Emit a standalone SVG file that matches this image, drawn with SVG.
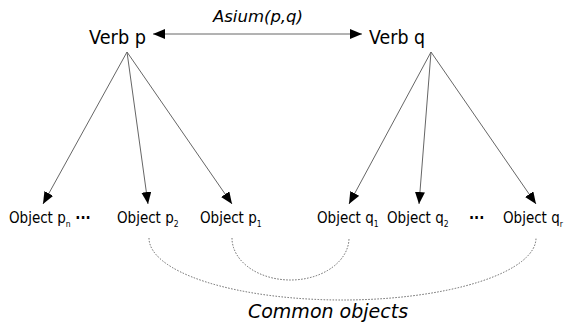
<svg xmlns="http://www.w3.org/2000/svg" width="567" height="327" viewBox="0 0 567 327">
<style>
  .lbl { font-family: "DejaVu Sans", "Liberation Sans", sans-serif; fill: #000; }
  .verb { font-size: 20px; }
  .obj { font-size: 15px; }
  .sub { font-size: 8.5px; }
  .dots { font-weight: bold; }
  .it { font-style: italic; }
  .edge { stroke: #666; stroke-width: 1; fill: none; }
  .common { stroke: #666; stroke-width: 1; fill: none; stroke-dasharray: 1.5 1.5; }
</style>
<defs>
  <marker id="ah" markerUnits="userSpaceOnUse" markerWidth="13" markerHeight="11" refX="12" refY="5" orient="auto-start-reverse">
    <path d="M0,0 L12,5 L0,10 z" fill="#000"/>
  </marker>
</defs>
<rect width="567" height="327" fill="#fff"/>
<g id="connectors">
  <line class="edge" x1="153" y1="34" x2="362" y2="34" marker-start="url(#ah)" marker-end="url(#ah)"/>
  <line class="edge" x1="127" y1="52" x2="43" y2="204" marker-end="url(#ah)"/>
  <line class="edge" x1="127" y1="52" x2="148" y2="204" marker-end="url(#ah)"/>
  <line class="edge" x1="127" y1="52" x2="232" y2="204" marker-end="url(#ah)"/>
  <line class="edge" x1="431" y1="52" x2="349" y2="204" marker-end="url(#ah)"/>
  <line class="edge" x1="431" y1="52" x2="419" y2="204" marker-end="url(#ah)"/>
  <line class="edge" x1="431" y1="52" x2="536" y2="204" marker-end="url(#ah)"/>
</g>
<g id="asium-label"><text class="lbl it" x="258" y="22" font-size="16.5" text-anchor="middle">Asium(p,q)</text></g>
<g id="verb-p"><text class="lbl verb" x="89" y="44" textLength="57" lengthAdjust="spacingAndGlyphs">Verb p</text></g>
<g id="verb-q"><text class="lbl verb" x="369" y="44" textLength="56" lengthAdjust="spacingAndGlyphs">Verb q</text></g>
<g id="obj-pn"><text class="lbl obj" transform="translate(9,223) scale(0.9,1)">Object p<tspan class="sub" dy="4">n</tspan><tspan class="dots" dy="-4"> ···</tspan></text></g>
<g id="obj-p2"><text class="lbl obj" transform="translate(117,223) scale(0.9,1)">Object p<tspan class="sub" dy="4">2</tspan></text></g>
<g id="obj-p1"><text class="lbl obj" transform="translate(200,223) scale(0.9,1)">Object p<tspan class="sub" dy="4">1</tspan></text></g>
<g id="obj-q1"><text class="lbl obj" transform="translate(317,223) scale(0.9,1)">Object q<tspan class="sub" dy="4">1</tspan></text></g>
<g id="obj-q2"><text class="lbl obj" transform="translate(387,223) scale(0.9,1)">Object q<tspan class="sub" dy="4">2</tspan></text></g>
<g id="dots-q"><text class="lbl obj dots" transform="translate(469,223) scale(0.9,1)">···</text></g>
<g id="obj-qr"><text class="lbl obj" transform="translate(503,223) scale(0.9,1)">Object q<tspan class="sub" dy="4">r</tspan></text></g>
<g id="common-links">
  <path class="common" d="M232,238 A58.5,42 0 0 0 349,238"/>
  <path class="common" d="M149,238 A193.5,62 0 0 0 536,238"/>
</g>
<g id="common-label"><text class="lbl it" x="328" y="318" font-size="19" text-anchor="middle">Common objects</text></g>
</svg>
